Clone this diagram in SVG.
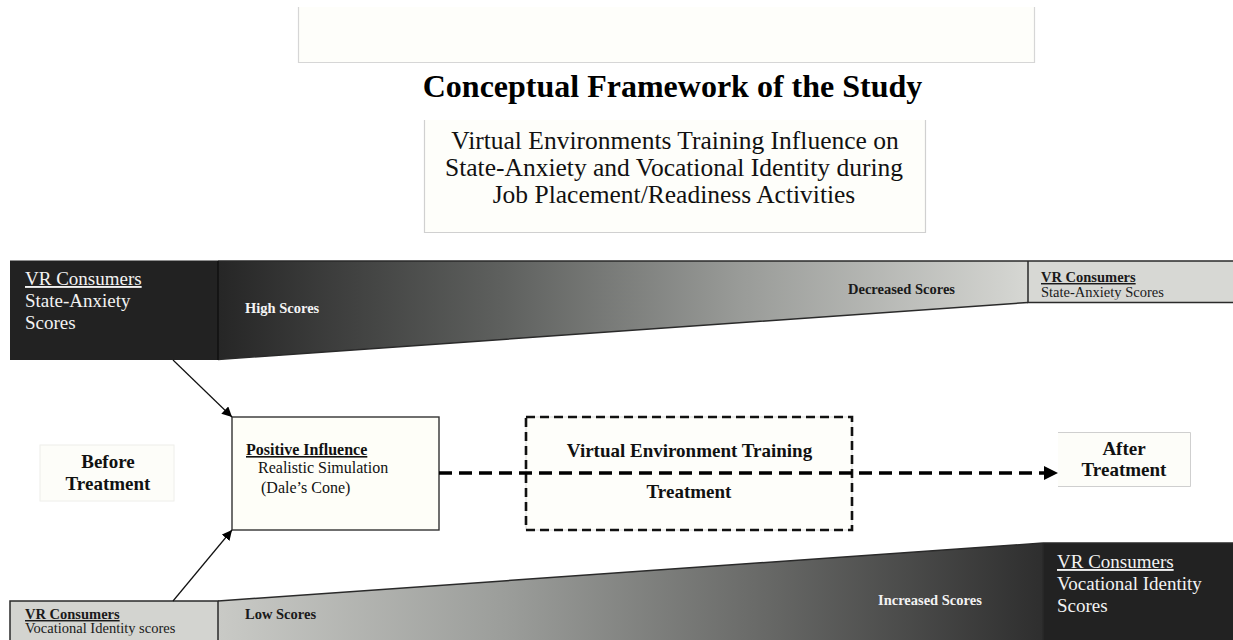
<svg xmlns="http://www.w3.org/2000/svg" width="1233" height="640" viewBox="0 0 1233 640">
  <style>
    .serif { font-family: "Liberation Serif", "Times New Roman", serif; }
    .b { font-weight: bold; }
    .u { text-decoration: underline; }
    .paper { fill: #fefefa; }
    .light { fill: #f2f2f2; }
    .ink { fill: #111; }
    .thin { stroke: #111; stroke-width: 1.2; fill: none; }
    .band-edge { stroke: #2a2a2a; stroke-width: 1.5; fill: none; }
  </style>
  <defs>
    <linearGradient id="gradTop" x1="218" y1="0" x2="1028" y2="0" gradientUnits="userSpaceOnUse">
      <stop offset="0" stop-color="#262626"/>
      <stop offset="0.35" stop-color="#5e605e"/>
      <stop offset="0.65" stop-color="#9a9c99"/>
      <stop offset="1" stop-color="#d6d7d3"/>
    </linearGradient>
    <linearGradient id="gradBottom" x1="218" y1="0" x2="1043" y2="0" gradientUnits="userSpaceOnUse">
      <stop offset="0" stop-color="#c9cac6"/>
      <stop offset="0.35" stop-color="#9b9d9a"/>
      <stop offset="0.65" stop-color="#6a6b69"/>
      <stop offset="1" stop-color="#2e2e2e"/>
    </linearGradient>
    <marker id="head" viewBox="0 0 10 10" refX="10" refY="5" markerWidth="10" markerHeight="10" markerUnits="userSpaceOnUse" orient="auto">
      <path d="M0,0 L10,5 L0,10 z" fill="#000"/>
    </marker>
    <marker id="headBig" viewBox="0 0 10 10" refX="10" refY="5" markerWidth="14" markerHeight="14" markerUnits="userSpaceOnUse" orient="auto">
      <path d="M0,0 L10,5 L0,10 z" fill="#000"/>
    </marker>
    <clipPath id="clipTopRight"><rect x="1028" y="261" width="205" height="38.5"/></clipPath>
    <clipPath id="clipBottomLeft"><rect x="10" y="601" width="208" height="34.5"/></clipPath>
  </defs>

  <rect width="1233" height="640" fill="#ffffff"/>

  <!-- blank header panel -->
  <g id="header-panel">
    <rect x="298" y="7" width="737" height="56" class="paper"/>
    <path d="M298.5,7 V62.5 H1034.5 V7" fill="none" stroke="#d6d6d6" stroke-width="1.2"/>
  </g>

  <!-- title -->
  <g id="title">
    <text x="672.5" y="97" text-anchor="middle" class="serif b" font-size="32" fill="#000">Conceptual Framework of the Study</text>
  </g>

  <!-- subtitle panel -->
  <g id="subtitle">
    <rect x="424" y="120" width="502" height="113" class="paper"/>
    <path d="M424.5,120 V232.5 H925.5 V120" fill="none" stroke="#d0d0d0" stroke-width="1.2"/>
    <g class="serif" font-size="25.5" fill="#111" text-anchor="middle">
      <text x="675" y="149">Virtual Environments Training Influence on</text>
      <text x="674" y="176">State-Anxiety and Vocational Identity during</text>
      <text x="674" y="203">Job Placement/Readiness Activities</text>
    </g>
  </g>

  <!-- state-anxiety band (top) -->
  <g id="anxiety-band">
    <path d="M218,261 H1028 V302.5 L218,359.5 z" fill="url(#gradTop)"/>
    <path d="M218,261 H1028 M1028,302.5 L218,359.5" class="band-edge"/>
    <text x="245" y="313" class="serif b" font-size="14.5" fill="#f4f4f4">High Scores</text>
    <text x="848" y="294" class="serif b" font-size="14.5" fill="#1a1a1a">Decreased Scores</text>
  </g>

  <g id="anxiety-before">
    <rect x="10" y="260.5" width="208" height="99.5" fill="#222222"/>
    <line x1="218" y1="261" x2="218" y2="360" stroke="#111" stroke-width="1.5"/>
    <g class="serif light" font-size="19">
      <text x="25" y="285" class="u">VR Consumers</text>
      <text x="25" y="307">State-Anxiety</text>
      <text x="25" y="329">Scores</text>
    </g>
  </g>

  <g id="anxiety-after">
    <rect x="1028" y="261" width="205" height="41.5" fill="#d7d8d4"/>
    <path d="M1028,261 H1233 M1028,261 V302.5 H1233" class="band-edge"/>
    <g class="serif" font-size="14.5" fill="#1a1a1a" clip-path="url(#clipTopRight)">
      <text x="1041" y="282" class="b u">VR Consumers</text>
      <text x="1041" y="297">State-Anxiety Scores</text>
    </g>
  </g>

  <!-- vocational identity band (bottom) -->
  <g id="identity-band">
    <path d="M218,601 L1043,543 V640 H218 z" fill="url(#gradBottom)"/>
    <path d="M218,601 L1043,543" class="band-edge"/>
    <text x="245" y="619" class="serif b" font-size="14.5" fill="#1a1a1a">Low Scores</text>
    <text x="878" y="605" class="serif b" font-size="14.5" fill="#f2f2f2">Increased Scores</text>
  </g>

  <g id="identity-before">
    <rect x="10" y="601" width="208" height="39" fill="#d3d4d0"/>
    <path d="M10,640 V601 H218 V640" class="band-edge"/>
    <g class="serif" font-size="14.5" fill="#1a1a1a" clip-path="url(#clipBottomLeft)">
      <text x="25" y="619" class="b u">VR Consumers</text>
      <text x="25" y="633">Vocational Identity scores</text>
    </g>
  </g>

  <g id="identity-after">
    <rect x="1043" y="543" width="190" height="97" fill="#222222"/>
    <path d="M1043,543 H1233 M1043,543 V640" class="band-edge"/>
    <g class="serif light" font-size="19">
      <text x="1057" y="568" class="u">VR Consumers</text>
      <text x="1057" y="590">Vocational Identity</text>
      <text x="1057" y="612">Scores</text>
    </g>
  </g>

  <!-- stage labels -->
  <g id="before-treatment">
    <rect x="40" y="445" width="134" height="56" fill="#fdfdf9" stroke="#eeeeea" stroke-width="1"/>
    <g class="serif b ink" font-size="19" text-anchor="middle">
      <text x="108" y="468">Before</text>
      <text x="108" y="490">Treatment</text>
    </g>
  </g>

  <g id="positive-influence">
    <rect x="232" y="417" width="207" height="113" fill="#fefef8" stroke="#333" stroke-width="1.4"/>
    <g class="serif ink" font-size="16">
      <text x="246" y="455" class="b u">Positive Influence</text>
      <text x="258" y="473">Realistic Simulation</text>
      <text x="261" y="493">(Dale’s Cone)</text>
    </g>
  </g>

  <g id="ve-training">
    <rect x="526" y="417" width="326" height="113" fill="#fefefa" stroke="#dcdcdc" stroke-width="1"/>
    <rect x="526" y="417" width="326" height="113" fill="none" stroke="#111" stroke-width="2.6" stroke-dasharray="9 5"/>
    <g class="serif b ink" font-size="19" text-anchor="middle">
      <text x="689.5" y="457">Virtual Environment Training</text>
      <text x="689" y="498">Treatment</text>
    </g>
  </g>

  <g id="after-treatment">
    <rect x="1058" y="432" width="133" height="55" fill="#fdfdf9"/>
    <path d="M1058,432.5 H1190.5 V486.5 H1058" fill="none" stroke="#cfcfcf" stroke-width="1"/>
    <g class="serif b ink" font-size="19" text-anchor="middle">
      <text x="1124" y="455">After</text>
      <text x="1124" y="476">Treatment</text>
    </g>
  </g>

  <!-- connectors -->
  <g id="connectors">
    <line x1="173" y1="360" x2="232" y2="417" class="thin" marker-end="url(#head)"/>
    <line x1="173" y1="601" x2="232" y2="530" class="thin" marker-end="url(#head)"/>
    <line x1="439" y1="473" x2="1058" y2="473" stroke="#000" stroke-width="3.5" stroke-dasharray="13 7" marker-end="url(#headBig)"/>
  </g>
</svg>
